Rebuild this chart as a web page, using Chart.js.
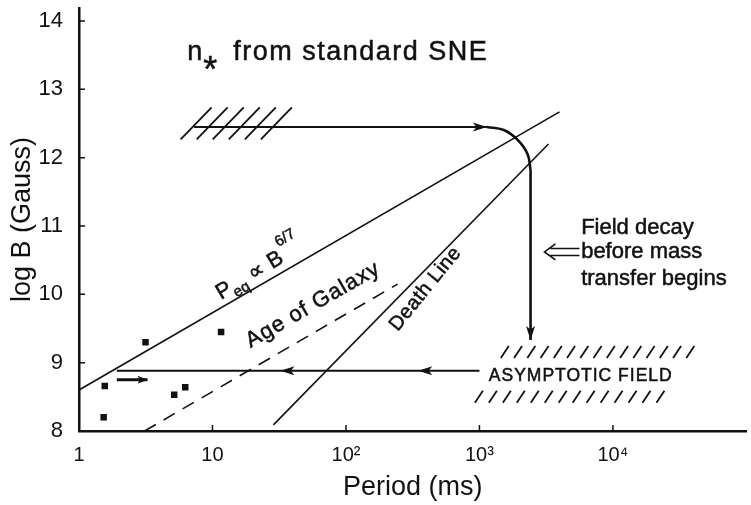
<!DOCTYPE html>
<html lang="en">
<head>
  <meta charset="UTF-8">
  <title>n* from standard SNE – field decay</title>
  <script src="https://cdn.jsdelivr.net/npm/chart.js"></script>
  <style>
    html, body { margin: 0; padding: 0; background: #fff; }
    #wrap { width: 751px; height: 505px; }
  </style>
</head>
<body>
<div id="wrap"><canvas id="chart" width="751" height="505"></canvas></div>
<script>
// ticks
const xTicks = [1, 10, 100, 1000, 10000];
const xTickLabels = ['1', '10', '10²', '10³', '10⁴'];
const yTicks = [8, 9, 10, 11, 12, 13, 14];

// pulsars : period (ms) / log B
const pulsarP = [1.56, 1.53, 3.15, 11.6, 5.17, 6.25];
const pulsarB = [8.66, 8.2, 9.30, 9.45, 8.53, 8.64];

// spin-up line P_eq ∝ B^(6/7)
const eqP = [1, 3980];
const eqB = [8.6, 12.67];

// death line
const deathP = [28.6, 3290];
const deathB = [8.09, 12.2];

// age of galaxy (dashed)
const ageP = [3.1, 244];
const ageB = [8.0, 10.15];

// evolution track
const trackP = [7.28, 1137];
const trackB = [12.45, 12.45];
const bendP = [1137, 1521, 1933, 2296, 2415];
const bendB = [12.45, 12.405, 12.26, 12.05, 11.82];
const decayP = [2415, 2415];
const decayB = [11.82, 9.33];
const asymP = [1000, 348, 32.3, 1.92];
const asymB = [8.88, 8.88, 8.88, 8.88];
const spinP = [1.92, 3.26];
const spinB = [8.75, 8.75];

const ink = '#111';
const FONT = "'Liberation Sans', Arial, sans-serif";

// hatched bands (data coords of first / last stroke centre)
const hatches = [
  { p0: 7.54, p1: 30.1, b: 12.5, n: 6, dx: 15.5, dy: 16 },
  { p0: 1549, p1: 38000, b: 9.156, n: 15, dx: 4, dy: 6 },
  { p0: 991, p1: 22700, b: 8.5, n: 14, dx: 4, dy: 6 }
];

// text notes, anchored on the baseline start
const notes = [
  { p: 6.46, b: 13.43, angle: 0, parts: [
    { t: 'n', size: 27 }, { t: '*', size: 36, dy: 22, dx: 1 },
    { t: ' from standard SNE', size: 27, ls: 1.5, dx: 7 }] },
  { p: 11.6, b: 9.917, angle: -31, parts: [
    { t: 'P', size: 22 }, { t: 'eq', size: 15, dy: 6 },
    { t: ' ∝ B', size: 22 }, { t: '6/7', size: 15, dy: -16, dx: 2 }] },
  { p: 19.3, b: 9.215, angle: -30, parts: [{ t: 'Age of Galaxy', size: 22, ls: 1 }] },
  { p: 244, b: 9.449, angle: -51, parts: [{ t: 'Death Line', size: 20, ls: 0.5 }] },
  { p: 1175, b: 8.73, angle: 0, parts: [{ t: 'ASYMPTOTIC FIELD', size: 17.5, ls: 1 }] },
  { p: 5780, b: 10.883, angle: 0, parts: [{ t: 'Field decay', size: 22 }] },
  { p: 5780, b: 10.532, angle: 0, parts: [{ t: 'before mass', size: 22 }] },
  { p: 5780, b: 10.137, angle: 0, parts: [{ t: 'transfer begins', size: 22 }] }
];
const hollowArrow = { p: 3069, b: 10.62 };

const pts = (xs, ys) => xs.map((v, i) => ({ x: v, y: ys[i] }));
const lineSet = (xs, ys, extra) => Object.assign({
  data: pts(xs, ys), showLine: true, pointRadius: 0,
  borderColor: ink, borderWidth: 1.6, fill: false
}, extra);

function arrowHead(ctx, x0, y0, x1, y1, len, half) {
  const a = Math.atan2(y1 - y0, x1 - x0);
  ctx.save();
  ctx.translate(x1, y1);
  ctx.rotate(a);
  ctx.beginPath();
  ctx.moveTo(0, 0);
  ctx.lineTo(-len, -half);
  ctx.lineTo(-len * 0.75, 0);
  ctx.lineTo(-len, half);
  ctx.closePath();
  ctx.fill();
  ctx.restore();
}

// text with sub/superscript parts, slightly inked to look like the lettering
function drawRich(ctx, px, py, angle, parts) {
  ctx.save();
  ctx.translate(px, py);
  ctx.rotate(angle * Math.PI / 180);
  ctx.textAlign = 'left';
  ctx.textBaseline = 'alphabetic';
  ctx.lineWidth = 0.5;
  let cx = 0;
  parts.forEach(p => {
    ctx.font = p.size + 'px ' + FONT;
    ctx.letterSpacing = (p.ls || 0) + 'px';
    cx += p.dx || 0;
    ctx.fillText(p.t, cx, p.dy || 0);
    ctx.strokeText(p.t, cx, p.dy || 0);
    cx += ctx.measureText(p.t).width;
  });
  ctx.restore();
}

const overlay = {
  id: 'overlay',
  afterDatasetsDraw(chart) {
    const { ctx, chartArea: area, scales: { x, y } } = chart;
    ctx.save();
    ctx.strokeStyle = ink;
    ctx.fillStyle = ink;

    // ticks pointing inward
    ctx.lineWidth = 1.5;
    ctx.beginPath();
    xTicks.slice(1).forEach(v => {
      const px = x.getPixelForValue(v);
      ctx.moveTo(px, area.bottom);
      ctx.lineTo(px, area.bottom - 6);
    });
    yTicks.slice(1).forEach(v => {
      const py = y.getPixelForValue(v);
      ctx.moveTo(area.left, py);
      ctx.lineTo(area.left + 6, py);
    });
    ctx.stroke();

    // arrowheads on flagged datasets
    chart.data.datasets.forEach((ds, i) => {
      if (!ds.arrowAt) return;
      const el = chart.getDatasetMeta(i).data;
      ds.arrowAt.forEach(k => {
        arrowHead(ctx, el[k - 1].x, el[k - 1].y, el[k].x, el[k].y, ds.arrowLen || 14, ds.arrowHalf || 4.5);
      });
    });

    // hatching
    hatches.forEach(h => {
      const x0 = x.getPixelForValue(h.p0), x1 = x.getPixelForValue(h.p1);
      const cy = y.getPixelForValue(h.b);
      ctx.lineWidth = 1.8;
      ctx.beginPath();
      for (let k = 0; k < h.n; k++) {
        const cx = x0 + (x1 - x0) * k / (h.n - 1);
        ctx.moveTo(cx - h.dx, cy + h.dy);
        ctx.lineTo(cx + h.dx, cy - h.dy);
      }
      ctx.stroke();
    });

    // hollow arrow next to the field decay note
    const ax = x.getPixelForValue(hollowArrow.p), ay = y.getPixelForValue(hollowArrow.b);
    ctx.lineWidth = 1.6;
    ctx.beginPath();
    ctx.moveTo(ax + 11, ay - 8);
    ctx.lineTo(ax, ay);
    ctx.lineTo(ax + 11, ay + 8);
    ctx.moveTo(ax + 6, ay - 3.5);
    ctx.lineTo(ax + 35, ay - 3.5);
    ctx.moveTo(ax + 6, ay + 3.5);
    ctx.lineTo(ax + 35, ay + 3.5);
    ctx.stroke();

    notes.forEach(n => {
      drawRich(ctx, x.getPixelForValue(n.p), y.getPixelForValue(n.b), n.angle, n.parts);
    });
    ctx.restore();
  }
};

new Chart(document.getElementById('chart'), {
  type: 'scatter',
  data: {
    datasets: [
      lineSet(eqP, eqB),
      lineSet(deathP, deathB),
      lineSet(ageP, ageB, { borderDash: [13, 9] }),
      lineSet(trackP, trackB, { borderWidth: 2, arrowAt: [1] }),
      lineSet(bendP, bendB, { borderWidth: 2.6, tension: 0.4 }),
      lineSet(decayP, decayB, { borderWidth: 2.6, arrowAt: [1] }),
      lineSet(asymP, asymB, { borderWidth: 2, arrowAt: [1, 2] }),
      lineSet(spinP, spinB, { borderWidth: 3.2, arrowAt: [1], arrowLen: 10, arrowHalf: 4 }),
      {
        data: pts(pulsarP, pulsarB), showLine: false,
        pointStyle: 'rect', pointRadius: 4.6, pointHoverRadius: 4.6,
        backgroundColor: ink, borderColor: ink, borderWidth: 0
      }
    ]
  },
  options: {
    responsive: false,
    animation: false,
    devicePixelRatio: 1,
    layout: { padding: { top: 8, left: 0, right: 0, bottom: 0 } },
    plugins: { legend: { display: false }, tooltip: { enabled: false } },
    scales: {
      x: {
        type: 'logarithmic', min: 1, max: 1e5,
        afterBuildTicks: s => { s.ticks = xTicks.map(v => ({ value: v })); },
        afterFit: s => { s.height = 74; s.paddingLeft = 0; s.paddingRight = 0; },
        grid: { display: false, drawTicks: false },
        border: { display: true, color: ink, width: 2.5 },
        ticks: {
          color: ink, font: { family: FONT, size: 20 }, padding: 12,
          maxRotation: 0, autoSkip: false,
          callback: (v, i) => xTickLabels[i]
        },
        title: {
          display: true, text: 'Period (ms)', color: ink,
          font: { family: FONT, size: 27 }, padding: { top: 0, bottom: 1 }
        }
      },
      y: {
        min: 8, max: 14.19,
        afterBuildTicks: s => { s.ticks = yTicks.map(v => ({ value: v })); },
        afterFit: s => { s.width = 79; s.paddingTop = 0; s.paddingBottom = 0; },
        grid: { display: false, drawTicks: false },
        border: { display: true, color: ink, width: 2.5 },
        ticks: { color: ink, font: { family: FONT, size: 22 }, padding: 16 },
        title: {
          display: true, text: 'log B (Gauss)', color: ink,
          font: { family: FONT, size: 27 }, padding: { top: 6, bottom: 0 }
        }
      }
    }
  },
  plugins: [overlay]
});
</script>
</body>
</html>
